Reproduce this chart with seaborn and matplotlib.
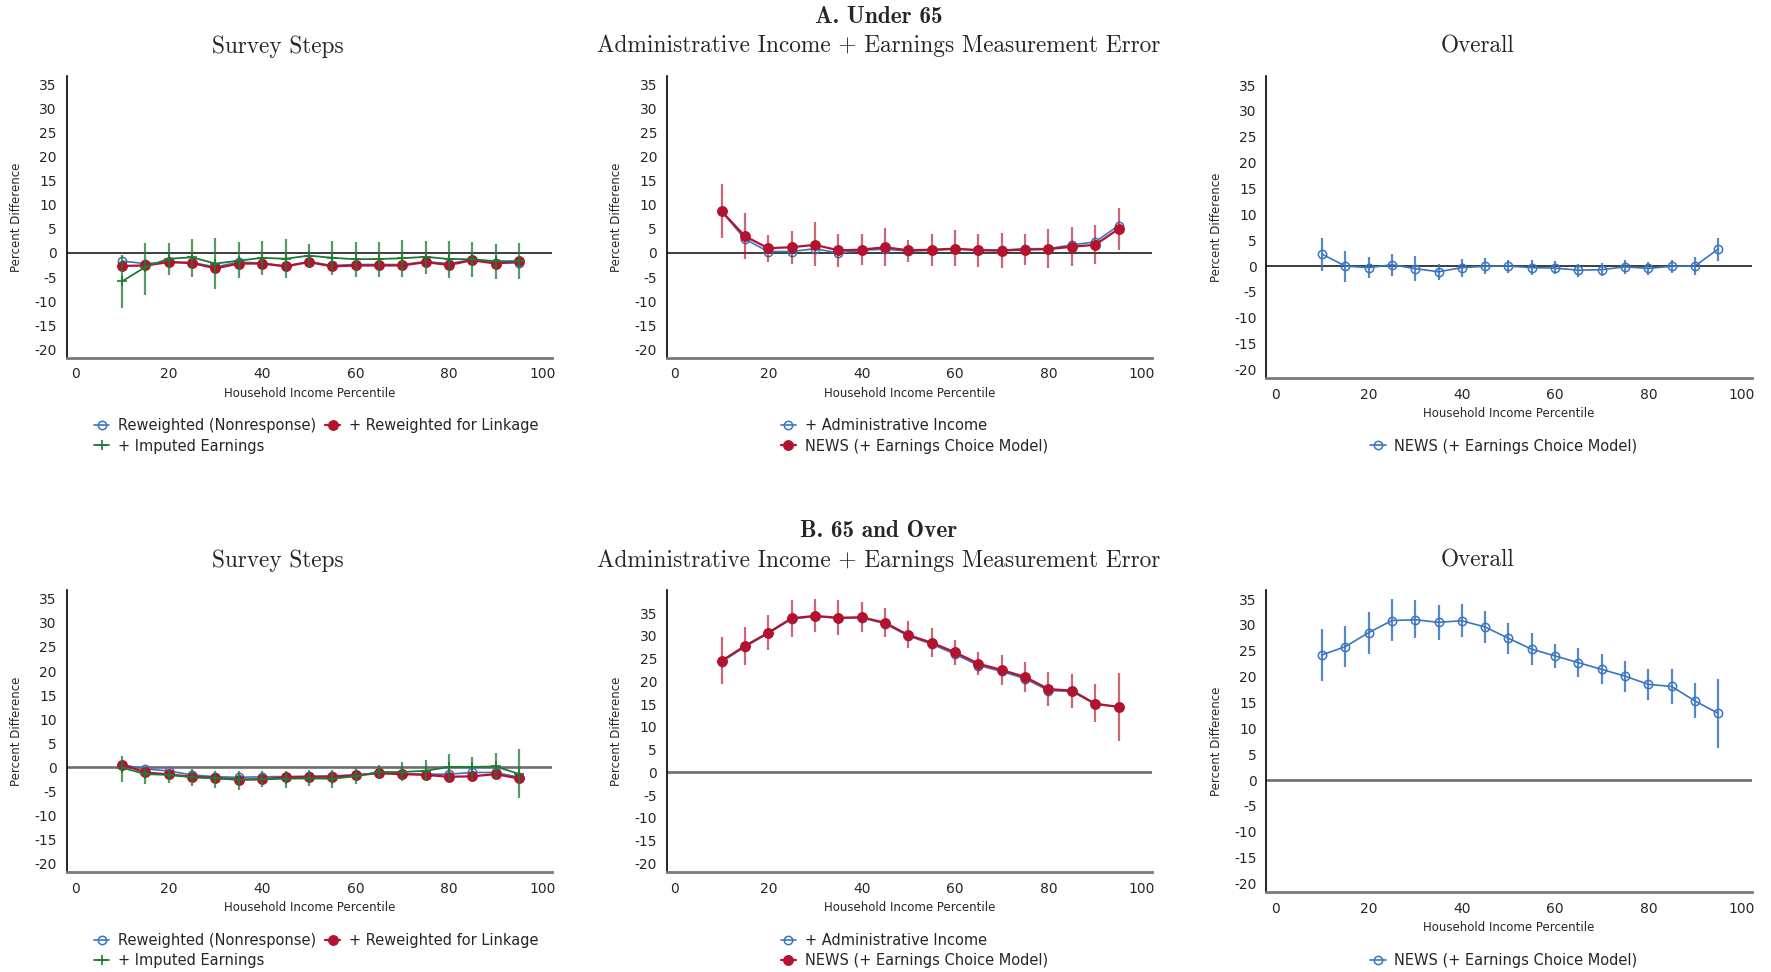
import numpy as np
import pandas as pd
import matplotlib
matplotlib.use("Agg")
import matplotlib.pyplot as plt
import seaborn as sns

# ---------------- data ----------------
percentile = [10, 15, 20, 25, 30, 35, 40, 45, 50, 55, 60, 65, 70, 75, 80, 85, 90, 95]

# Panel A: under 65
a_reweighted = [-1.7, -2.2, -1.9, -2.0, -2.9, -1.9, -2.1, -2.7, -1.8, -2.6, -2.4, -2.4, -2.4, -1.8, -2.2, -1.4, -2.1, -2.1]
a_linkage = [-2.7, -2.6, -1.9, -2.1, -3.2, -2.2, -2.2, -2.8, -1.9, -2.8, -2.6, -2.6, -2.6, -1.9, -2.5, -1.5, -2.2, -1.7]
a_imputed = [-5.9, -2.9, -1.2, -0.9, -2.2, -1.6, -1.0, -1.2, -0.55, -1.0, -1.3, -1.25, -1.1, -0.8, -1.25, -1.3, -1.7, -1.7]
a_imputed_lo = [-11.4, -8.7, -4.6, -4.9, -7.5, -5.3, -4.6, -5.2, -3.1, -4.6, -5.0, -4.9, -5.0, -4.3, -5.2, -5.0, -5.4, -5.4]
a_imputed_hi = [-0.5, 2.1, 2.1, 3.0, 3.1, 2.2, 2.6, 2.9, 1.9, 2.6, 2.3, 2.3, 2.8, 2.6, 2.6, 2.2, 1.9, 2.1]

a_admin = [8.7, 2.9, 0.3, 0.3, 0.9, 0.0, 0.55, 0.8, 0.4, 0.55, 0.8, 0.7, 0.6, 0.9, 0.9, 1.7, 2.3, 5.7]
a_news = [8.7, 3.5, 1.0, 1.2, 1.7, 0.55, 0.7, 1.2, 0.55, 0.7, 0.9, 0.55, 0.5, 0.7, 0.8, 1.3, 1.7, 5.0]
a_news_lo = [3.1, -1.25, -1.9, -2.2, -2.8, -2.9, -2.4, -2.8, -1.9, -2.7, -2.7, -2.9, -3.2, -2.6, -3.1, -2.7, -2.2, 0.7]
a_news_hi = [14.3, 8.3, 3.8, 4.6, 6.4, 3.9, 3.9, 5.1, 2.8, 4.0, 4.7, 3.9, 4.1, 3.9, 4.9, 5.4, 5.8, 9.3]

a_overall = [2.3, 0.0, -0.3, 0.25, -0.5, -1.1, -0.3, -0.05, 0.0, -0.3, -0.4, -0.8, -0.7, -0.15, -0.45, -0.05, 0.0, 3.3]
a_overall_lo = [-1.0, -3.0, -2.3, -1.9, -2.8, -2.6, -2.1, -1.6, -1.3, -1.7, -1.6, -2.1, -2.0, -1.55, -1.7, -1.35, -1.7, 0.9]
a_overall_hi = [5.5, 3.0, 1.7, 2.3, 1.9, 0.45, 1.35, 1.5, 1.1, 1.1, 0.9, 0.45, 0.6, 1.2, 0.8, 1.2, 1.7, 5.5]

# Panel B: 65 and over
b_reweighted = [0.5, -0.35, -0.8, -1.6, -2.0, -2.1, -2.0, -1.95, -1.9, -1.8, -1.6, -1.2, -1.4, -1.45, -1.45, -1.1, -1.1, -2.1]
b_linkage = [0.5, -1.1, -1.5, -2.0, -2.2, -2.6, -2.5, -2.1, -2.0, -2.0, -1.7, -1.25, -1.45, -1.6, -2.0, -1.9, -1.45, -2.35]
b_imputed = [-0.1, -1.45, -1.6, -2.1, -2.35, -2.6, -2.5, -2.4, -2.35, -2.4, -1.9, -1.0, -1.0, -0.75, 0.05, 0.05, 0.15, -1.4]
b_imputed_lo = [-3.1, -3.4, -3.3, -4.0, -4.4, -4.7, -4.2, -4.3, -4.0, -4.4, -3.6, -2.4, -2.9, -2.9, -2.8, -2.6, -2.6, -6.5]
b_imputed_hi = [2.4, -0.3, -0.7, -0.35, -0.7, -0.7, -0.8, -0.7, -0.5, -0.5, -0.15, 0.55, 1.0, 1.4, 2.8, 2.2, 3.05, 3.8]

b_admin = [24.3, 27.6, 30.6, 33.7, 34.3, 33.9, 34.0, 32.7, 30.0, 28.2, 26.0, 23.5, 22.2, 20.6, 18.0, 17.8, 15.0, 14.4]
b_news = [24.5, 27.8, 30.7, 33.9, 34.4, 34.0, 34.1, 32.9, 30.2, 28.5, 26.4, 23.9, 22.5, 21.0, 18.3, 18.0, 15.1, 14.4]
b_news_lo = [19.5, 23.7, 26.9, 29.8, 30.8, 30.3, 30.8, 29.8, 27.3, 25.3, 23.6, 21.4, 19.3, 17.7, 14.6, 14.2, 11.0, 7.0]
b_news_hi = [29.8, 31.9, 34.6, 37.9, 38.2, 37.8, 37.5, 36.1, 33.3, 31.7, 29.0, 26.5, 25.8, 24.2, 22.0, 21.6, 19.4, 21.8]

b_overall = [24.2, 25.8, 28.5, 30.85, 31.0, 30.5, 30.8, 29.6, 27.4, 25.3, 24.0, 22.7, 21.4, 20.1, 18.5, 18.1, 15.3, 12.9]
b_overall_lo = [19.1, 21.8, 24.4, 26.8, 27.4, 27.0, 27.6, 26.5, 24.4, 22.2, 21.6, 20.0, 18.5, 17.1, 15.4, 14.7, 12.0, 6.2]
b_overall_hi = [29.3, 29.75, 32.5, 35.0, 34.8, 33.9, 34.0, 32.65, 30.3, 28.5, 26.4, 25.5, 24.3, 23.1, 21.5, 21.5, 18.7, 19.6]

y_ticks = [-20, -15, -10, -5, 0, 5, 10, 15, 20, 25, 30, 35]
x_ticks = [0, 20, 40, 60, 80, 100]

lbl_reweighted = "Reweighted (Nonresponse)"
lbl_linkage = "+ Reweighted for Linkage"
lbl_imputed = "+ Imputed Earnings"
lbl_admin = "+ Administrative Income"
lbl_news = "NEWS (+ Earnings Choice Model)"

# ---------------- style ----------------
sns.set_style("white")
plt.rcParams["font.family"] = ["DejaVu Sans"]
plt.rcParams["axes.unicode_minus"] = False

BLUE = "#3a75c0"
RED = "#b3132e"
GREEN = "#1e7a34"

W, H = 1771, 972
fig = plt.figure(figsize=(W / 100, H / 100), dpi=100)

# column extents in pixels: (left spine, right end)
COL1 = (66.6, 551.8)
COL2 = (666.9, 1151.7)
COL3 = (1266.3, 1751.8)


def px_axes(left, top, right, bottom):
    return fig.add_axes([left / W, 1 - bottom / H, (right - left) / W, (bottom - top) / H])


def series(ax, y, color, kind, label, lo=None, hi=None, err_alpha=0.8, z=3):
    df = pd.DataFrame({"x": percentile, "y": y})
    if lo is not None:
        ax.vlines(percentile, lo, hi, color=color, alpha=err_alpha, linewidth=1.6, zorder=z)
    if kind == "open":
        sns.lineplot(data=df, x="x", y="y", ax=ax, color=color, linewidth=1.2, marker="o",
                     markersize=6, markerfacecolor="none", markeredgecolor=color,
                     markeredgewidth=1.1, label=label, zorder=z + 0.5, legend=False)
    elif kind == "filled":
        sns.lineplot(data=df, x="x", y="y", ax=ax, color=color, linewidth=1.6, marker="o",
                     markersize=7, markerfacecolor=color, markeredgecolor=color,
                     markeredgewidth=0.8, label=label, zorder=z + 0.5, legend=False)
    else:
        sns.lineplot(data=df, x="x", y="y", ax=ax, color=color, linewidth=1.3, marker="+",
                     markersize=7, markeredgecolor=color, markeredgewidth=1.2,
                     label=label, zorder=z + 0.5, legend=False)
    return ax.lines[-1]


def style_axes(ax, xlim, ylim, zero_color, zero_lw):
    ax.axhline(0, color=zero_color, linewidth=zero_lw, zorder=1)
    ax.set_xlim(*xlim)
    ax.set_ylim(*ylim)
    ax.set_xticks(x_ticks)
    ax.set_yticks(y_ticks)
    ax.set_xticklabels([str(v) for v in x_ticks])
    ax.set_yticklabels([str(v) for v in y_ticks])
    ax.tick_params(axis="both", length=0, labelsize=10, pad=7)
    for s in ("top", "right"):
        ax.spines[s].set_visible(False)
    ax.spines["left"].set_color("black")
    ax.spines["left"].set_linewidth(1.2)
    ax.spines["bottom"].set_color("#7a7a7a")
    ax.spines["bottom"].set_linewidth(2.0)
    ax.set_xlabel("Household Income Percentile", fontsize=8.5)
    ax.set_ylabel("Percent Difference", fontsize=8.5)
    bb = ax.get_position()
    ax.xaxis.set_label_coords(0.5, -29.0 / (bb.height * H))
    ax.yaxis.set_label_coords(-43.5 / (bb.width * W), 0.5)


def legend(ax, handles, labels, cx, cy, ncol=1):
    ax.legend(handles, labels, loc="center", bbox_to_anchor=(cx / W, 1 - cy / H),
              bbox_transform=fig.transFigure, ncol=ncol, frameon=False, fontsize=10.5,
              handlelength=1.05, handletextpad=0.6, columnspacing=0.6, labelspacing=0.35,
              borderpad=0.1)


rows = [
    dict(top=76, bot=357.7, bot3=378.3, leg=436, leg3=446,
         rw=a_reweighted, lk=a_linkage, im=a_imputed, im_lo=a_imputed_lo, im_hi=a_imputed_hi,
         ad=a_admin, nw=a_news, nw_lo=a_news_lo, nw_hi=a_news_hi,
         ov=a_overall, ov_lo=a_overall_lo, ov_hi=a_overall_hi,
         ylim2=(-21.8, 36.85), zc="#2e2e2e", zlw=1.3),
    dict(top=590, bot=872, bot3=892.3, leg=950.5, leg3=960.5,
         rw=b_reweighted, lk=b_linkage, im=b_imputed, im_lo=b_imputed_lo, im_hi=b_imputed_hi,
         ad=b_admin, nw=b_news, nw_lo=b_news_lo, nw_hi=b_news_hi,
         ov=b_overall, ov_lo=b_overall_lo, ov_hi=b_overall_hi,
         ylim2=(-21.9, 40.1), zc="#6e6e6e", zlw=1.9),
]

for r in rows:
    # Survey steps
    ax1 = px_axes(COL1[0], r["top"], COL1[1], r["bot"])
    style_axes(ax1, (-1.9, 102.05), (-21.8, 36.85), r["zc"], r["zlw"])
    h_rw = series(ax1, r["rw"], BLUE, "open", lbl_reweighted)
    h_lk = series(ax1, r["lk"], RED, "filled", lbl_linkage, z=4)
    h_im = series(ax1, r["im"], GREEN, "plus", lbl_imputed, r["im_lo"], r["im_hi"], err_alpha=0.75, z=5)
    legend(ax1, [h_rw, h_im, h_lk], [lbl_reweighted, lbl_imputed, lbl_linkage], 316.3, r["leg"], ncol=2)

    # Administrative income + earnings measurement error
    ax2 = px_axes(COL2[0], r["top"], COL2[1], r["bot"])
    style_axes(ax2, (-1.7, 102.1), r["ylim2"], r["zc"], r["zlw"])
    h_ad = series(ax2, r["ad"], BLUE, "open", lbl_admin)
    h_nw = series(ax2, r["nw"], RED, "filled", lbl_news, r["nw_lo"], r["nw_hi"], err_alpha=0.65, z=4)
    legend(ax2, [h_ad, h_nw], [lbl_admin, lbl_news], 914.4, r["leg"])

    # Overall
    ax3 = px_axes(COL3[0], r["top"], COL3[1], r["bot3"])
    style_axes(ax3, (-1.95, 102.2), (-21.7, 36.75), r["zc"], r["zlw"])
    h_ov = series(ax3, r["ov"], BLUE, "open", lbl_news, r["ov_lo"], r["ov_hi"], err_alpha=0.85)
    legend(ax3, [h_ov], [lbl_news], 1504, r["leg3"])

# Titles
TS = 16.8
fig.text(878.5 / W, 1 - 23.3 / H, "A. Under 65", ha="center", va="baseline", family="cmb10", fontsize=TS)
fig.text(878.5 / W, 1 - 52 / H, "Administrative Income + Earnings Measurement Error", ha="center",
         va="baseline", family="cmr10", fontsize=TS)
fig.text(278 / W, 1 - 52.5 / H, "Survey Steps", ha="center", va="baseline", family="cmr10", fontsize=TS)
fig.text(1477.8 / W, 1 - 52.5 / H, "Overall", ha="center", va="baseline", family="cmr10", fontsize=TS)

fig.text(878.5 / W, 1 - 537.3 / H, "B. 65 and Over", ha="center", va="baseline", family="cmb10", fontsize=TS)
fig.text(878.5 / W, 1 - 566.7 / H, "Administrative Income + Earnings Measurement Error", ha="center",
         va="baseline", family="cmr10", fontsize=TS)
fig.text(278 / W, 1 - 566.7 / H, "Survey Steps", ha="center", va="baseline", family="cmr10", fontsize=TS)
fig.text(1477.8 / W, 1 - 566.7 / H, "Overall", ha="center", va="baseline", family="cmr10", fontsize=TS)

fig.savefig("out.png", dpi=100)
